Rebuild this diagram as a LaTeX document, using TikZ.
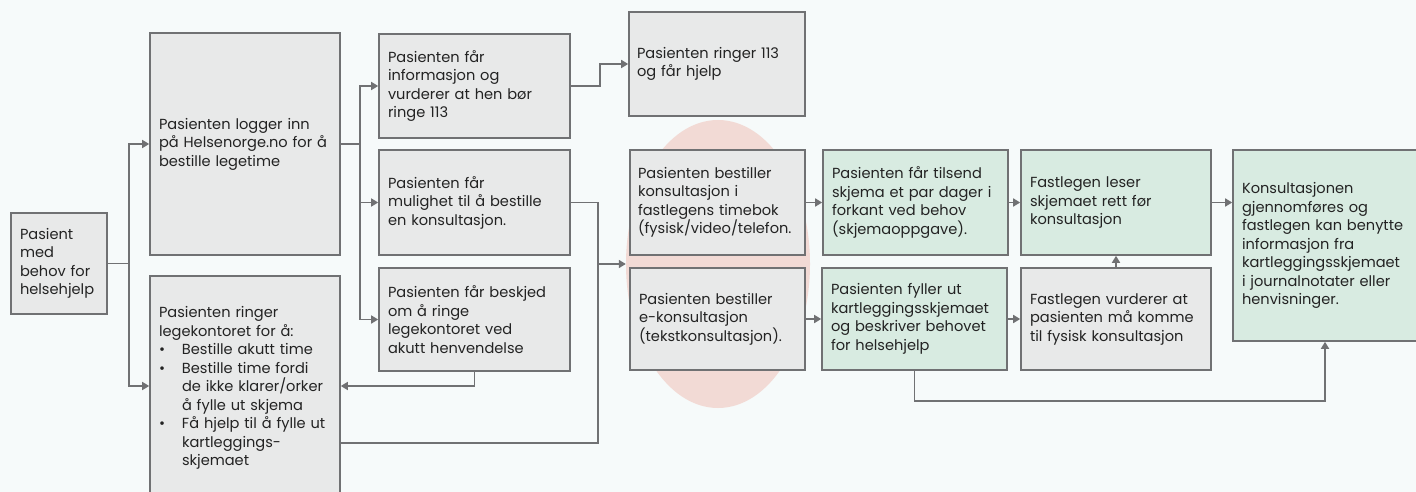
\documentclass[tikz,border=0pt]{standalone}
\usepackage{fontspec}
\setmainfont{Poppins}
\usetikzlibrary{arrows.meta,shapes.geometric}
\definecolor{bgcol}{RGB}{246,250,250}
\definecolor{boxgray}{RGB}{232,233,233}
\definecolor{boxgreen}{RGB}{216,235,225}
\definecolor{edgecol}{RGB}{112,113,115}
\definecolor{pinkcol}{RGB}{242,218,213}
\definecolor{txtcol}{RGB}{35,35,35}
\begin{document}
\begin{tikzpicture}[x=1pt,y=-1pt,
  box/.style={draw=edgecol, line width=1.6pt, fill=boxgray, align=left,
    inner xsep=9pt, inner ysep=0pt, text=txtcol,
    font=\fontsize{14.6pt}{18.5pt}\selectfont},
  gbox/.style={box, fill=boxgreen},
  conn/.style={draw=edgecol, line width=1.6pt},
  arr/.style={conn, -{Triangle[length=7pt,width=8pt]}}]
\useasboundingbox (0,0) rectangle (1416,492);
\fill[bgcol] (0,0) rectangle (1416,492);
\node[ellipse, fill=pinkcol, minimum width=184pt, minimum height=288pt, inner sep=0pt] (ell) at (718,264) {};
% boxes
\node[box, text width=78pt, minimum height=101pt] (pas) at (59,263.5) {Pasient\\med\\behov for\\helsehjelp};
\node[box, text width=176pt, inner xsep=7pt, minimum height=222pt] (log) at (245,144) {\hspace*{2pt}Pasienten logger inn\\\hspace*{2pt}på Helsenorge.no for å\\\hspace*{2pt}bestille legetime};
\node[box, text width=172pt, minimum height=224pt] (ring) at (245,388) {Pasienten ringer\\legekontoret for å:\\
\makebox[23pt][l]{•}Bestille akutt time\\
\makebox[23pt][l]{•}Bestille time fordi\\
\hspace*{23pt}de ikke klarer/orker\\
\hspace*{23pt}å fylle ut skjema\\
\makebox[23pt][l]{•}Få hjelp til å fylle ut\\
\hspace*{23pt}kartleggings-\\
\hspace*{23pt}skjemaet};
\node[box, text width=173pt, minimum height=104pt] (info) at (474.5,86) {Pasienten får\\informasjon og\\vurderer at hen bør\\ringe 113};
\node[box, text width=160pt, minimum height=104pt, inner xsep=8pt] (t113) at (717,64) {Pasienten ringer 113\\og får hjelp};
\node[box, text width=173pt, minimum height=105pt] (mul) at (474.5,202.5) {Pasienten får\\mulighet til å bestille\\en konsultasjon.};
\node[box, text width=173pt, minimum height=103pt] (besk) at (474.5,319.5) {Pasienten får beskjed\\om å ringe\\legekontoret ved\\akutt henvendelse};
\node[box, text width=159pt, inner xsep=8pt, minimum height=105pt] (time) at (717.5,202.5) {Pasienten bestiller\\konsultasjon i\\fastlegens timebok\\(fysisk/video/telefon.};
\node[box, text width=157pt, minimum height=102pt] (ekon) at (717.5,319) {Pasienten bestiller\\e-konsultasjon\\(tekstkonsultasjon).};
\node[gbox, text width=167pt, minimum height=105pt] (tils) at (915.5,202.5) {Pasienten får tilsend\\skjema et par dager i\\forkant ved behov\\(skjemaoppgave).};
\node[gbox, text width=167pt, minimum height=102pt] (fyll) at (914.5,319) {Pasienten fyller ut\\kartleggingsskjemaet\\og beskriver behovet\\for helsehjelp};
\node[gbox, text width=172pt, minimum height=105pt] (les) at (1116,202.5) {Fastlegen leser\\skjemaet rett før\\konsultasjon};
\node[box, text width=172pt, minimum height=102pt] (vur) at (1116,319) {Fastlegen vurderer at\\pasienten må komme\\til fysisk konsultasjon};
\node[gbox, text width=166pt, minimum height=191pt] (kon) at (1325,245.5) {Konsultasjonen\\gjennomføres og\\fastlegen kan benytte\\informasjon fra\\kartleggingsskjemaet\\i journalnotater eller\\henvisninger.};
% connectors
\draw[arr] (pas.east) -- ++(21,0) |- (log.west);
\draw[arr] (pas.east) -- ++(21,0) |- (ring.west |- 0,386);
\draw[arr] (log.east) -- ++(19,0) |- (info.west);
\draw[arr] (log.east) -- ++(19,0) |- (mul.west);
\draw[arr] (log.east) -- ++(19,0) |- (besk.west);
\draw[arr] (info.east) -- ++(29,0) |- (t113.west);
\coordinate (jn) at (598,264);
\draw[conn] (mul.east) -| (jn);
\draw[conn] (ring.east |- 0,443) -| (jn);
\draw[arr] (jn) -- (ell.west);
\draw[arr] (besk.south) |- (ring.east |- 0,386);
\draw[arr] (time.east) -- (tils.west);
\draw[arr] (ekon.east) -- (fyll.west);
\draw[arr] (tils.east) -- (les.west);
\draw[arr] (fyll.east) -- (vur.west);
\draw[arr] (les.east) -- (les.east -| kon.west);
\draw[arr] (vur.north) -- (les.south);
\draw[arr] (fyll.south) -- ++(0,30) -| (kon.south);
\end{tikzpicture}
\end{document}
